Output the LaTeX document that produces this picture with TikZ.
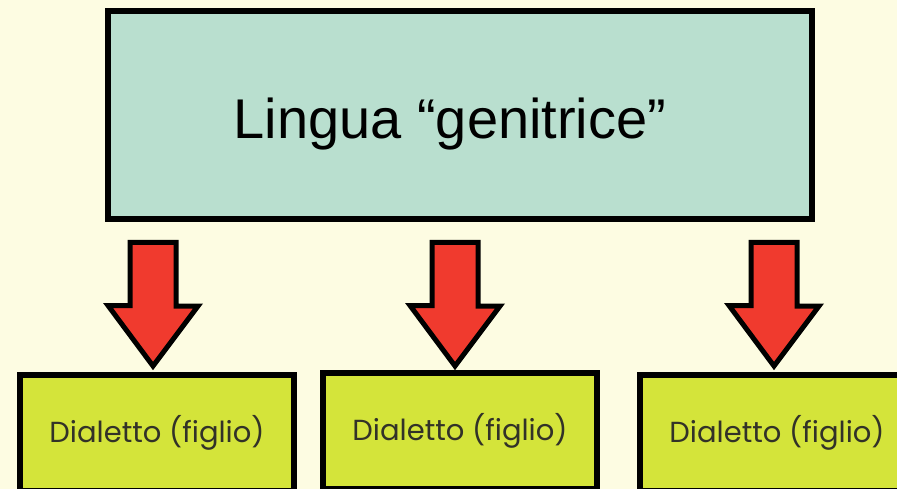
\documentclass[tikz,border=0pt]{standalone}
\usepackage{fontspec}
\setmainfont{Liberation Sans}
\newfontfamily\childfont{Poppins}
\definecolor{bgcol}{RGB}{253,252,226}
\definecolor{topfill}{RGB}{185,223,207}
\definecolor{childfill}{RGB}{212,228,58}
\definecolor{arrowred}{RGB}{240,58,46}
\definecolor{childtext}{RGB}{50,50,40}
\tikzset{
  parentbox/.style={draw=black, line width=6pt, fill=topfill, minimum width=704pt, minimum height=208pt, inner sep=0pt,
    text height=60pt, text depth=12pt, font=\fontsize{56}{62}\selectfont},
  childbox/.style={draw=black, line width=6pt, fill=childfill, minimum width=274pt, minimum height=116pt, inner sep=0pt,
    font=\childfont\fontsize{29}{33}\selectfont, text=childtext},
  bigarrow/.style={draw=black, line width=5pt, fill=arrowred, line join=miter}
}
\begin{document}
\begin{tikzpicture}[x=1pt,y=-1pt]
\useasboundingbox (0,0) rectangle (897,489);
\clip (0,0) rectangle (897,489);
\fill[bgcol] (0,0) rectangle (897,489);
\node[parentbox] (parent) at (460,115) {Lingua “genitrice”\hspace*{20pt}};
\node[childbox] (c1) at (157,433) {Dialetto (figlio)};
\node[childbox] (c2) at (460,431) {Dialetto (figlio)};
\node[childbox] (c3) at (777,433) {Dialetto (figlio)};
\foreach \n/\x in {1/153,2/455,3/774}{
  \coordinate (s\n) at (\x,242.5);
  \draw[bigarrow] (s\n) ++(-23,0) -- ++(46,0) -- ++(0,63.5) -- ++(22,0) -- (\x,366) -- ++(-45,-60.5) -- ++(22,0) -- cycle;
}
\end{tikzpicture}
\end{document}
